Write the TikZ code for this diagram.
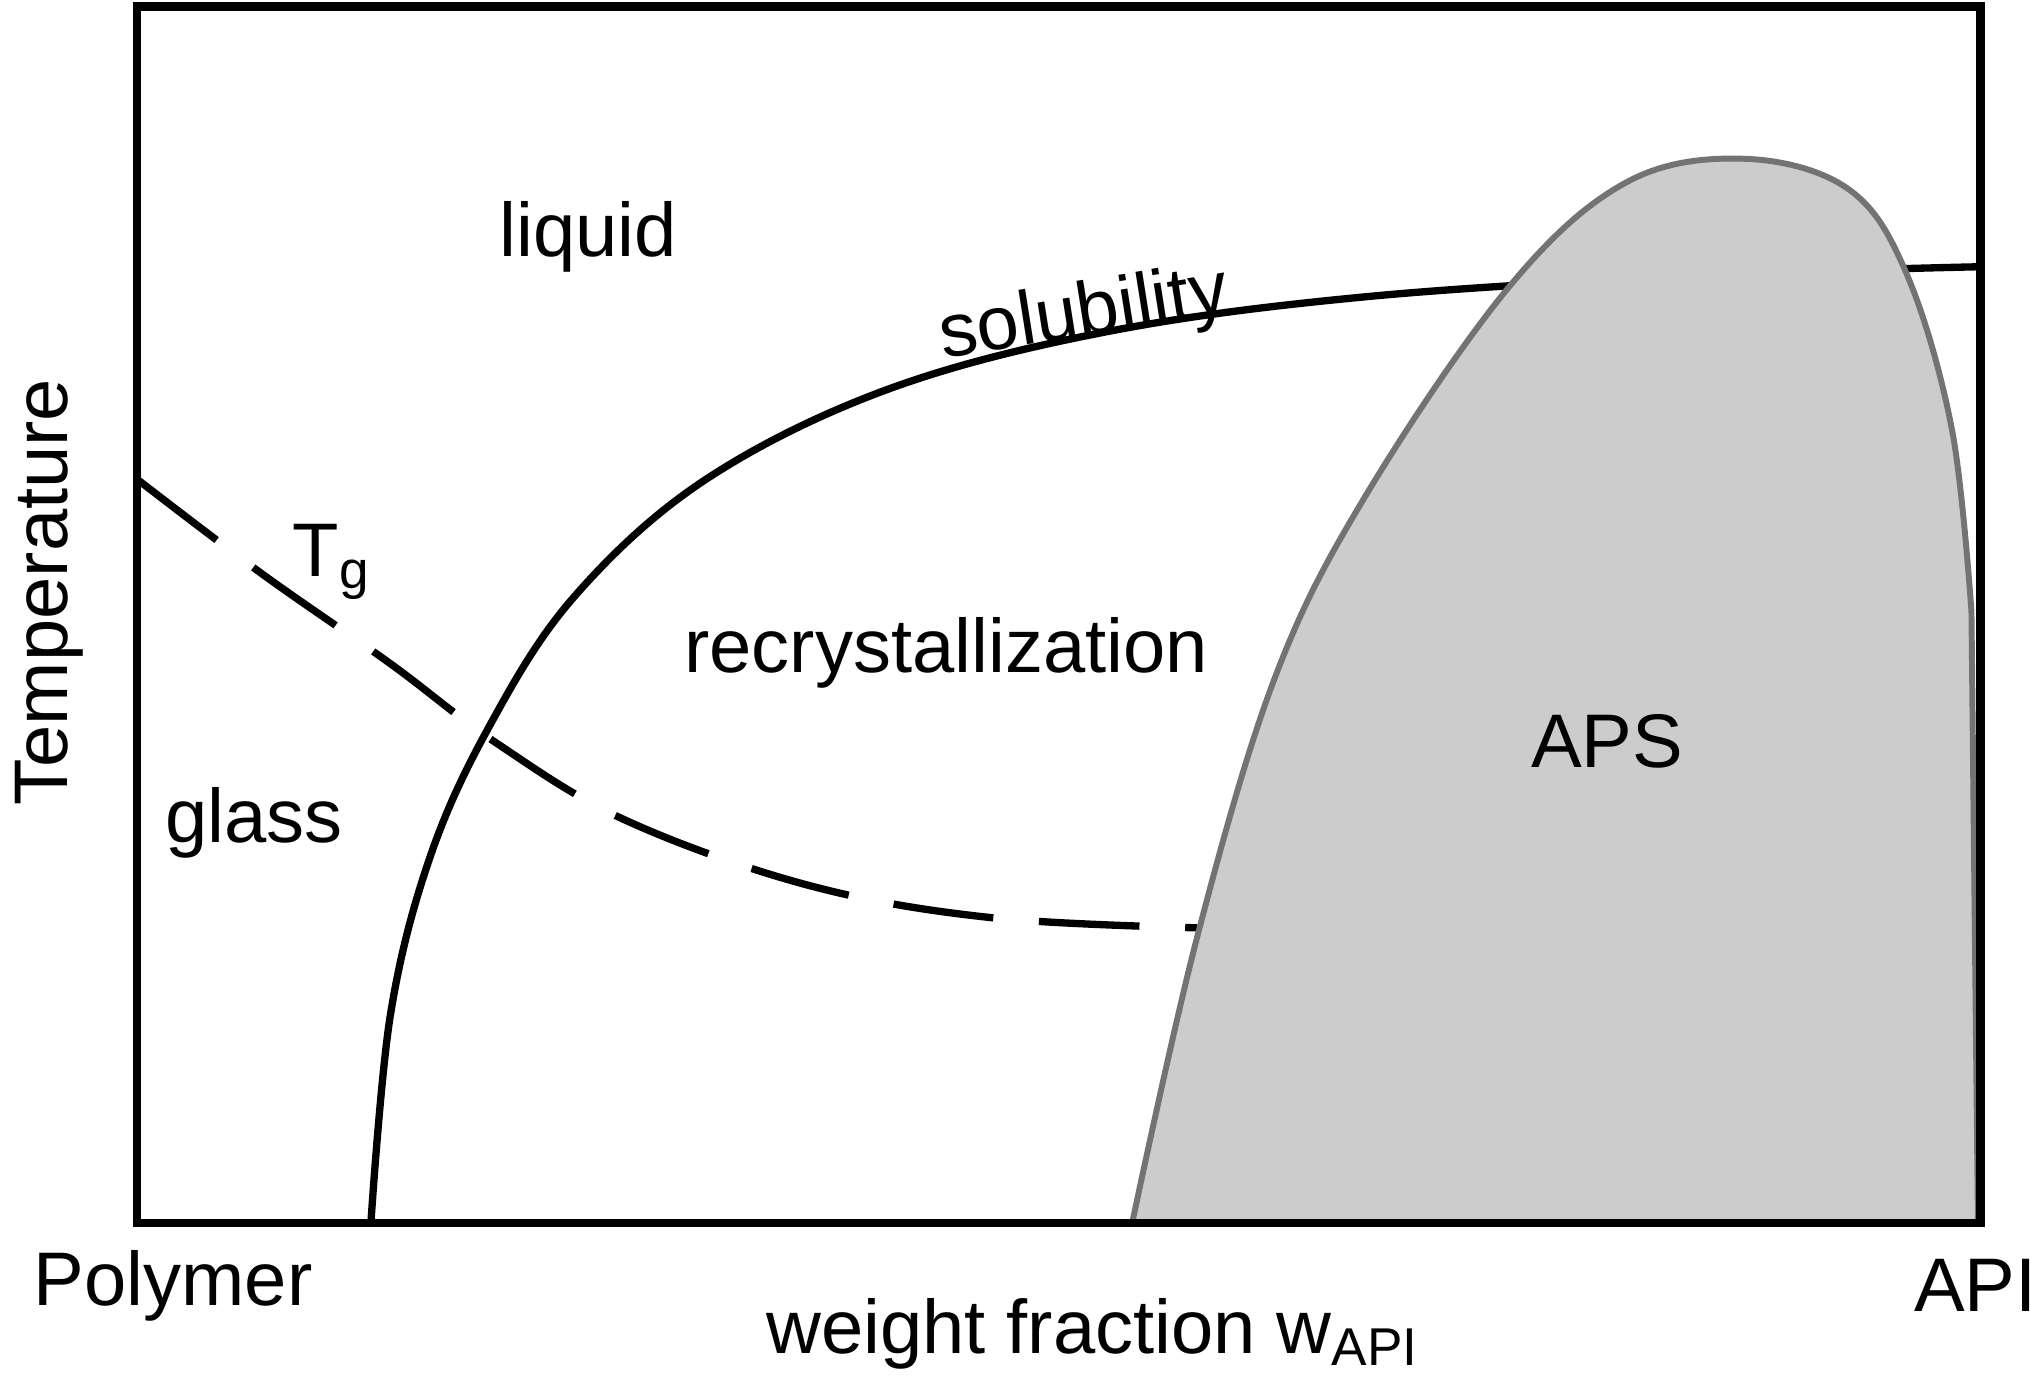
\documentclass[tikz,border=0pt]{standalone}
\usepackage{fontspec}
\setmainfont{Liberation Sans}
\begin{document}
\begin{tikzpicture}[x=0.01cm,y=-0.01cm,
  lbl/.style={font=\fontsize{16.6}{20}\selectfont,inner sep=0pt},
  curve/.style={line width=1.6pt,black}]
\useasboundingbox (0,0) rectangle (1560,1057);
\draw[curve] plot[smooth,tension=0.6] coordinates{(285,940) (300,780) (330,660) (375,560) (440,460) (540,370) (680,300) (850,255) (1050,228) (1300,212) (1520,205)};
\draw[curve,dash pattern=on 22pt off 10pt] plot[smooth,tension=0.6] coordinates{(105,368) (200,440) (300,510) (380,570) (480,630) (620,680) (760,705) (920,713)};
\filldraw[fill=black!20,draw=black!55,line width=1.3pt] plot[smooth,tension=0.6] coordinates{(870,940) (920,720) (980,520) (1050,380) (1160,220) (1250,140) (1340,122) (1420,145) (1465,210) (1500,330) (1515,470)} -- (1520,940) -- cycle;
\draw[line width=1.8pt] (105,5) rectangle (1522,940);
\node[lbl] (liq) at (452,182) {liquid};
\node[lbl,rotate=9] (sol) at (833,243) {solubility};
\node[lbl] (tg) at (255,432) {T\textsubscript{g}};
\node[lbl] (rec) at (727,502) {recrystallization};
\node[lbl] (aps) at (1235,570) {APS};
\node[lbl] (gl) at (195,632) {glass};
\node[lbl,rotate=90] (temp) at (38,455) {Temperature};
\node[lbl] (pol) at (133,988) {Polymer};
\node[lbl] (api) at (1518,988) {API};
\node[lbl] (wf) at (840,1025) {weight fraction w\textsubscript{API}};
\end{tikzpicture}
\end{document}
